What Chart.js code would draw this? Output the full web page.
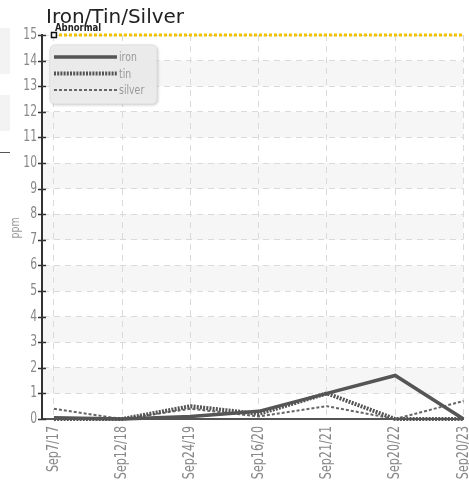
<!DOCTYPE html>
<html>
<head>
<meta charset="utf-8">
<script src="https://cdn.jsdelivr.net/npm/chart.js@4/dist/chart.umd.min.js"></script>
<style>
  body { margin: 0; background: #fff; }
  #wrap { position: relative; width: 469px; height: 484px; }
  .ghost { position: absolute; left: 0; width: 10px; background: #f3f3f3; }
</style>
</head>
<body>
<div id="wrap">
  <div class="ghost" style="top:28px;height:46px"></div>
  <div class="ghost" style="top:95px;height:36px"></div>
  <div class="ghost" style="top:152px;height:1px;background:#555"></div>
  <canvas id="c"></canvas>
</div>
<script>
/* Iron/Tin/Silver chart */
const dates = ['Sep7/17', 'Sep12/18', 'Sep24/19', 'Sep16/20', 'Sep21/21', 'Sep20/22', 'Sep20/23'];
const iron = [0.05, 0, 0.1, 0.3, 1.0, 1.7, 0];
const tin = [0, 0, 0.5, 0.2, 1.0, 0, 0];
const silver = [0.4, 0, 0.4, 0.1, 0.5, 0, 0.7];
const abnormal = [15, 15];
const yTicks = [0, 1, 2, 3, 4, 5, 6, 7, 8, 9, 10, 11, 12, 13, 14, 15];

const FONT = '"DejaVu Sans", sans-serif';
const SQUEEZE = 0.72;
const pts = arr => arr.map((v, i) => ({ x: i, y: v }));

// narrow text: draw with the x direction squeezed
function narrowText(ctx, txt, x, y, size, align, rot) {
  ctx.save();
  ctx.translate(x, y);
  if (rot) ctx.rotate(rot);
  ctx.scale(SQUEEZE, 1);
  ctx.font = size + 'px ' + FONT;
  ctx.textAlign = align;
  ctx.textBaseline = 'middle';
  ctx.fillText(txt, 0, 0);
  ctx.restore();
}

const decor = {
  id: 'decor',
  beforeDraw(chart) {
    const { ctx, chartArea: a, scales: { y } } = chart;
    ctx.save();
    ctx.fillStyle = '#f6f6f6';
    for (let v = 1; v < 15; v += 2) {
      const top = y.getPixelForValue(v + 1), bot = y.getPixelForValue(v);
      ctx.fillRect(a.left, top, a.right - a.left, bot - top);
    }
    ctx.restore();
  },
  afterDraw(chart) {
    const { ctx, chartArea: a, scales: { x, y } } = chart;
    ctx.save();
    // title
    ctx.fillStyle = '#222';
    ctx.font = '20px ' + FONT;
    ctx.textBaseline = 'alphabetic';
    ctx.fillText('Iron/Tin/Silver', 46, 23);
    // abnormal label
    ctx.font = 'bold 10px ' + FONT;
    ctx.save(); ctx.translate(55, 31); ctx.scale(0.85, 1); ctx.fillText('Abnormal', 0, 0); ctx.restore();
    // y tick crosses + labels
    ctx.strokeStyle = '#333';
    ctx.lineWidth = 1.5;
    ctx.fillStyle = '#888';
    yTicks.forEach(v => {
      const p = Math.round(y.getPixelForValue(v)) + 0.5;
      ctx.beginPath(); ctx.moveTo(a.left - 4, p); ctx.lineTo(a.left + 4, p); ctx.stroke();
      narrowText(ctx, String(v), 37, p, 15, 'right');
    });
    // x labels
    dates.forEach((d, i) => {
      narrowText(ctx, d, x.getPixelForValue(i), 426, 15.5, 'right', -Math.PI / 2);
    });
    // y title
    ctx.fillStyle = '#999';
    narrowText(ctx, 'ppm', 16, 228, 13, 'center', -Math.PI / 2);
    ctx.restore();

    // legend box
    ctx.save();
    ctx.shadowColor = 'rgba(0,0,0,0.25)';
    ctx.shadowBlur = 3;
    ctx.shadowOffsetX = 1;
    ctx.shadowOffsetY = 1;
    ctx.fillStyle = 'rgba(238,238,238,0.92)';
    ctx.beginPath();
    ctx.roundRect(50, 45, 107, 59, 5);
    ctx.fill();
    ctx.shadowColor = 'transparent';
    ctx.strokeStyle = '#ddd';
    ctx.lineWidth = 1;
    ctx.stroke();
    const items = chart.data.datasets.filter(d => d.label !== 'Abnormal');
    items.forEach((d, i) => {
      const yy = 57 + i * 16.5;
      ctx.strokeStyle = d.borderColor;
      ctx.lineWidth = d.borderWidth;
      ctx.setLineDash(d.borderDash || []);
      ctx.beginPath(); ctx.moveTo(54, yy); ctx.lineTo(117, yy); ctx.stroke();
      ctx.fillStyle = '#999';
      narrowText(ctx, d.label, 119, yy + 1, 13, 'left');
    });
    ctx.restore();
  }
};

new Chart(document.getElementById('c'), {
  type: 'line',
  data: {
    datasets: [
      { label: 'Abnormal', data: abnormal.map((v, i) => ({ x: i * 6, y: v })), borderColor: '#f2c200', borderWidth: 3, borderDash: [3, 2],
        pointStyle: 'rect', pointRadius: [3.5, 0], pointBackgroundColor: '#fff', pointBorderColor: '#111', pointBorderWidth: 1.5, clip: false },
      { label: 'iron', data: pts(iron), borderColor: '#555', borderWidth: 3.5, pointRadius: 0, clip: false },
      { label: 'tin', data: pts(tin), borderColor: '#555', borderWidth: 4, borderDash: [2, 1.2], pointRadius: 0, clip: false },
      { label: 'silver', data: pts(silver), borderColor: '#666', borderWidth: 2, borderDash: [3, 2], pointRadius: 0, clip: false }
    ]
  },
  options: {
    responsive: true,
    maintainAspectRatio: false,
    animation: false,
    layout: { padding: { top: 35, right: 4, left: 0, bottom: 0 } },
    plugins: { legend: { display: false }, tooltip: { enabled: false } },
    scales: {
      x: {
        type: 'linear', min: -0.175, max: 6,
        afterFit(s) { s.height = 65; s.paddingLeft = 0; s.paddingRight = 0; },
        ticks: { stepSize: 1, includeBounds: false, autoSkip: false, display: false },
        grid: { color: '#dadada', drawTicks: false },
        border: { display: true, color: '#555', width: 2, dash: [6, 5] }
      },
      y: {
        min: 0, max: 15,
        afterFit(s) { s.width = 42; },
        ticks: { stepSize: 1, display: false },
        grid: { color: '#dadada', drawTicks: false },
        border: { display: true, color: '#333', width: 2, dash: [6, 5] }
      }
    }
  },
  plugins: [decor]
});
</script>
</body>
</html>
